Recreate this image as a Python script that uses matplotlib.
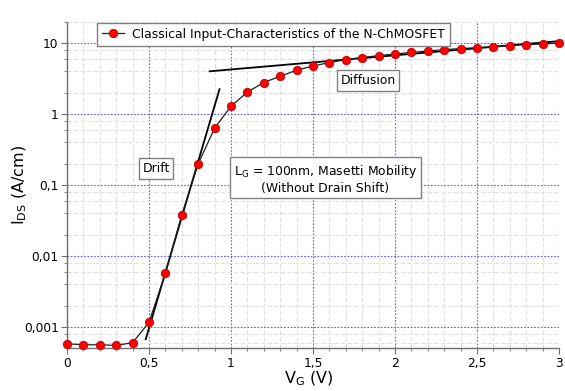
import matplotlib
matplotlib.use("Agg")
import matplotlib.pyplot as plt
import numpy as np
from matplotlib.ticker import FixedLocator, FixedFormatter, LogLocator, MultipleLocator, NullFormatter

vg = [0.0, 0.1, 0.2, 0.3, 0.4, 0.5, 0.6, 0.7, 0.8, 0.9, 1.0, 1.1, 1.2, 1.3, 1.4,
      1.5, 1.6, 1.7, 1.8, 1.9, 2.0, 2.1, 2.2, 2.3, 2.4, 2.5, 2.6, 2.7, 2.8, 2.9, 3.0]
ids = [0.00058, 0.00056, 0.00056, 0.00055, 0.0006, 0.00116, 0.0057, 0.038, 0.20, 0.63,
       1.29, 2.04, 2.78, 3.41, 4.14, 4.76, 5.3, 5.85, 6.24, 6.66, 7.0, 7.4, 7.7, 8.1,
       8.35, 8.6, 8.9, 9.2, 9.5, 9.7, 10.0]

drift_v = [0.48, 0.93]
drift_i = [0.00067, 2.24]
diff_v = [0.87, 2.99]
diff_i = [4.0, 10.6]

xticks = [0, 0.5, 1, 1.5, 2, 2.5, 3]
xticklabels = ["0", "0,5", "1", "1,5", "2", "2,5", "3"]
yticks = [0.001, 0.01, 0.1, 1, 10]
yticklabels = ["0,001", "0,01", "0,1", "1", "10"]

legend_label = "Classical Input-Characteristics of the N-ChMOSFET"

fig = plt.figure(figsize=(5.65, 3.91), dpi=100)
ax = fig.add_axes([67/565, 1-348.3/391, (559-67)/565, (348.3-21.7)/391])

ax.set_yscale("log")
ax.set_xlim(0, 3)
ax.set_ylim(0.0005, 20)

ax.xaxis.set_major_locator(FixedLocator(xticks))
ax.xaxis.set_major_formatter(FixedFormatter(xticklabels))
ax.xaxis.set_minor_locator(MultipleLocator(0.1))
ax.yaxis.set_major_locator(FixedLocator(yticks))
ax.yaxis.set_major_formatter(FixedFormatter(yticklabels))
ax.yaxis.set_minor_locator(LogLocator(base=10, subs=[2, 4, 6, 8]))
ax.yaxis.set_minor_formatter(NullFormatter())

ax.grid(which="minor", color="#e0e0e0", linestyle=(0, (4, 2)), linewidth=0.8, zorder=0)
ax.grid(which="major", color="#5a5aff", linestyle=(0, (1.5, 1.5)), linewidth=0.8, zorder=0.5)

for s in ["top", "right"]:
    ax.spines[s].set_visible(False)
for s in ["left", "bottom"]:
    ax.spines[s].set_color("#707070")
    ax.spines[s].set_linewidth(1.0)

ax.tick_params(which="major", length=4, color="#707070", labelsize=8.8, pad=2)
ax.tick_params(which="minor", length=2.5, color="#707070")

ax.plot(diff_v, diff_i, color="black", linewidth=1.3, zorder=3)
ax.plot(drift_v, drift_i, color="black", linewidth=1.3, zorder=3)
ax.plot(vg, ids, color="#202020", linewidth=0.9, marker="o", markersize=6,
        markerfacecolor="#ff0000", markeredgecolor="#c00000", markeredgewidth=0.6,
        label=legend_label, zorder=4, clip_on=False)

leg = ax.legend(loc="upper left", bbox_to_anchor=((97.3-67)/492, 1-1/326.6),
                borderaxespad=0, fancybox=False, framealpha=1, edgecolor="#808080",
                fontsize=8.9, handlelength=1.8, handletextpad=0.6, borderpad=0.4)
leg.get_frame().set_linewidth(1.0)

box = dict(boxstyle="square,pad=0.3", facecolor="white", edgecolor="#808080", linewidth=1.0)
ax.text(0.543, 0.17, "Drift", ha="center", va="center", fontsize=8.9, bbox=box, zorder=5)
ax.text(1.835, 2.95, "Diffusion", ha="center", va="center", fontsize=8.9, bbox=box, zorder=5)
ax.text(1.576, 0.122, "L$_\\mathregular{G}$ = 100nm, Masetti Mobility\n(Without Drain Shift)",
        ha="center", va="center", multialignment="center", fontsize=8.9, bbox=box, zorder=5,
        linespacing=1.15)

ax.set_xlabel("V$_\\mathregular{G}$ (V)", fontsize=11.5)
ax.set_ylabel("I$_\\mathregular{DS}$ (A/cm)", fontsize=11.5)
ax.xaxis.set_label_coords((309 - 67) / 492, (348.3 - 370) / 326.6)
ax.yaxis.set_label_coords((29 - 67) / 492, 0.5)

fig.savefig("out.png", dpi=100)
